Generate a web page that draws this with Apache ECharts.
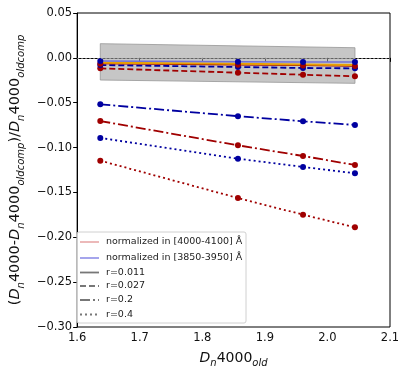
<!DOCTYPE html>
<html>
<head>
<meta charset="utf-8">
<script src="https://cdn.jsdelivr.net/npm/echarts@6/dist/echarts.min.js"></script>
<style>
  html, body { margin: 0; padding: 0; background: #fff; }
  #chart-container { width: 407px; height: 374px; }
</style>
</head>
<body>
<div id="chart-container"></div>
<script>
// Dn4000_old positions
var xs = [1.637, 1.857, 1.961, 2.044];

// normalized in [4000-4100] A (red)
var red011 = [-0.0065, -0.0078, -0.0085, -0.0092];
var red027 = [-0.0117, -0.0165, -0.0188, -0.0206];
var red02 = [-0.0704, -0.0975, -0.1094, -0.1194];
var red04 = [-0.1146, -0.1562, -0.1748, -0.1889];

// normalized in [3850-3950] A (blue)
var blue011 = [-0.0035, -0.0042, -0.0045, -0.0047];
var blue027 = [-0.0080, -0.0102, -0.0113, -0.0117];
var blue02 = [-0.0518, -0.0650, -0.0707, -0.0748];
var blue04 = [-0.0893, -0.1124, -0.1216, -0.1287];

// mean line and grey scatter band
var meanLine = [-0.0055, -0.0066, -0.0073, -0.0080];
var bandX = [1.637, 2.044];
var bandTop = [0.0158, 0.0113];
var bandBottom = [-0.0247, -0.0284];

var RED = "#a00000";
var BLUE = "#0000a0";

function pairs(ys) {
  return xs.map(function (x, i) { return [x, ys[i]]; });
}

function mkSeries(name, ys, color, type, width) {
  return {
    name: name,
    type: "line",
    data: pairs(ys),
    symbol: "circle",
    symbolSize: 6,
    showSymbol: true,
    itemStyle: { color: color },
    lineStyle: { color: color, width: width || 1.8, type: type },
    z: 3,
    animation: false
  };
}

var dom = document.getElementById("chart-container");
var myChart = echarts.init(dom);

var minus = function (v) {
  return v.replace("-", "\u2212");
};

var legendRows = [
  { label: "normalized in [4000-4100] \u00c5", color: "#e08a8a", dash: "solid", w: 1.2 },
  { label: "normalized in [3850-3950] \u00c5", color: "#6a6ae0", dash: "solid", w: 1.2 },
  { label: "r=0.011", color: "#777", dash: "solid", w: 1.8 },
  { label: "r=0.027", color: "#777", dash: [6, 3], w: 1.8 },
  { label: "r=0.2", color: "#777", dash: [10, 3, 2, 3], w: 1.8 },
  { label: "r=0.4", color: "#777", dash: [2, 3], w: 1.8 }
];
var legendY = [242, 258, 272.5, 286, 300, 314.5];
var legendGraphics = [{
  type: "rect",
  shape: { x: 77, y: 232, width: 169, height: 91, r: 2 },
  style: { fill: "rgba(255,255,255,0.8)", stroke: "#d0d0d0", lineWidth: 1 },
  z: 100
}];
legendRows.forEach(function (row, i) {
  legendGraphics.push({
    type: "line",
    shape: { x1: 80, y1: legendY[i], x2: 99, y2: legendY[i] },
    style: { stroke: row.color, lineWidth: row.w, lineDash: row.dash === "solid" ? null : row.dash },
    z: 101
  });
  legendGraphics.push({
    type: "text",
    x: 106,
    y: legendY[i],
    style: {
      text: row.label,
      font: "9.5px 'DejaVu Sans'",
      fill: "#222",
      verticalAlign: "middle"
    },
    z: 101
  });
});

var option = {
  backgroundColor: "#fff",
  animation: false,
  grid: {
    left: 72,
    right: 17,
    top: 13,
    bottom: 47,
    show: true,
    borderColor: "#000",
    borderWidth: 1
  },
  xAxis: {
    type: "value",
    min: 1.6,
    max: 2.1,
    interval: 0.1,
    name: "{d|D}{s|n}{t|4000}{s|old}",
    nameLocation: "middle",
    nameGap: 24,
    nameTextStyle: {
      rich: {
        d: { fontFamily: "DejaVu Sans", fontStyle: "italic", fontSize: 14, color: "#111", verticalAlign: "bottom" },
        t: { fontFamily: "DejaVu Sans", fontSize: 14, color: "#111", verticalAlign: "bottom" },
        s: { fontFamily: "DejaVu Sans", fontStyle: "italic", fontSize: 10, color: "#111", verticalAlign: "bottom", padding: [0, 0, -3, 0] }
      }
    },
    axisLine: { show: true, lineStyle: { color: "#000", width: 1 } },
    axisTick: { show: true, length: 4, lineStyle: { color: "#000" } },
    axisLabel: {
      fontFamily: "DejaVu Sans",
      fontSize: 11.5,
      color: "#111",
      margin: 5,
      formatter: function (v) { return v.toFixed(1); }
    },
    splitLine: { show: false }
  },
  yAxis: {
    type: "value",
    min: -0.3,
    max: 0.05,
    interval: 0.05,
    name: "({d|D}{s|n}{t|4000-}{d|D}{s|n}{t|4000}{s|oldcomp}{t|)/}{d|D}{s|n}{t|4000}{s|oldcomp}",
    nameLocation: "middle",
    nameRotate: 90,
    nameGap: 40,
    nameTextStyle: {
      fontFamily: "DejaVu Sans",
      fontSize: 14.5,
      color: "#111",
      rich: {
        d: { fontFamily: "DejaVu Sans", fontStyle: "italic", fontSize: 14.5, color: "#111", verticalAlign: "bottom" },
        t: { fontFamily: "DejaVu Sans", fontSize: 14.5, color: "#111", verticalAlign: "bottom" },
        s: { fontFamily: "DejaVu Sans", fontStyle: "italic", fontSize: 10, color: "#111", verticalAlign: "bottom", padding: [0, 0, -3, 0] }
      }
    },
    axisLine: { show: true, lineStyle: { color: "#000", width: 1 } },
    axisTick: { show: true, length: 4, lineStyle: { color: "#000" } },
    axisLabel: {
      fontFamily: "DejaVu Sans",
      fontSize: 11.5,
      color: "#111",
      margin: 5,
      formatter: function (v) { return minus(v.toFixed(2)); }
    },
    splitLine: { show: false }
  },
  graphic: legendGraphics,
  series: [
    {
      name: "band",
      type: "custom",
      data: [0],
      z: 1,
      silent: true,
      renderItem: function (params, api) {
        var pts = [];
        for (var i = 0; i < bandX.length; i++) pts.push(api.coord([bandX[i], bandTop[i]]));
        for (var j = bandX.length - 1; j >= 0; j--) pts.push(api.coord([bandX[j], bandBottom[j]]));
        return {
          type: "polygon",
          shape: { points: pts },
          style: { fill: "rgba(160,160,160,0.6)", stroke: "rgba(150,150,150,0.8)", lineWidth: 1 }
        };
      }
    },
    {
      name: "zero",
      type: "line",
      data: [],
      markLine: {
        silent: true,
        symbol: "none",
        label: { show: false },
        lineStyle: { color: "#aaaaaa", width: 0.7, type: [2, 2] },
        data: [{ yAxis: 0 }]
      }
    },
    mkSeries("red r=0.4", red04, RED, [2, 3]),
    mkSeries("blue r=0.4", blue04, BLUE, [2, 3]),
    mkSeries("red r=0.2", red02, RED, [10, 3, 2, 3]),
    mkSeries("blue r=0.2", blue02, BLUE, [10, 3, 2, 3]),
    mkSeries("red r=0.027", red027, RED, [6, 3]),
    mkSeries("blue r=0.027", blue027, BLUE, [6, 3]),
    mkSeries("red r=0.011", red011, RED, "solid", 1.2),
    {
      name: "mean",
      type: "line",
      data: pairs(meanLine),
      showSymbol: false,
      lineStyle: { color: "#e8a000", width: 2 },
      z: 3
    },
    {
      name: "blue r=0.011",
      type: "line",
      data: pairs(blue011),
      symbol: "circle",
      symbolSize: 6,
      itemStyle: { color: BLUE },
      lineStyle: { color: "#7070d8", width: 1.5 },
      z: 3
    }
  ]
};

if (option && typeof option === "object") {
  myChart.setOption(option, true);
}
</script>
</body>
</html>
